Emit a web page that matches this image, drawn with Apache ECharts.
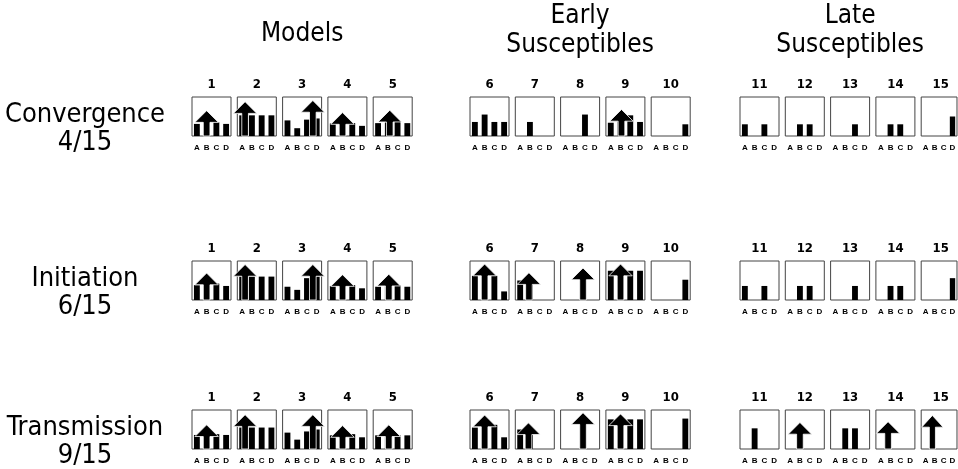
<!DOCTYPE html>
<html>
<head>
<meta charset="utf-8">
<script src="https://cdn.jsdelivr.net/npm/echarts@6/dist/echarts.min.js"></script>
<style>
html, body { margin: 0; padding: 0; background: #fff; }
#main { width: 958px; height: 469px; }
</style>
</head>
<body>
<div id="main"></div>
<script>
// chart data
var categories = ['A', 'B', 'C', 'D'];
var panelNumbers = ['1', '2', '3', '4', '5', '6', '7', '8', '9', '10', '11', '12', '13', '14', '15'];
var groupNames = ['Models', 'Early\nSusceptibles', 'Late\nSusceptibles'];
var rowNames = ['Convergence', 'Initiation', 'Transmission'];
var rowCounts = ['4/15', '6/15', '9/15'];

// bar heights (share of panel height) for A, B, C, D
var convergenceBars = [
    [0.31, 0.35, 0.35, 0.31], [0.53, 0.53, 0.53, 0.53], [0.40, 0.20, 0.42, 0.45],
    [0.32, 0.35, 0.33, 0.26], [0.33, 0.35, 0.36, 0.33],
    [0.36, 0.55, 0.36, 0.36], [0, 0.36, 0, 0], [0, 0, 0.55, 0],
    [0.34, 0.45, 0.53, 0.36], [0, 0, 0, 0.30],
    [0.30, 0, 0.30, 0], [0, 0.30, 0.30, 0], [0, 0, 0.30, 0],
    [0, 0.30, 0.30, 0], [0, 0, 0, 0.50]
];
var initiationBars = [
    [0.38, 0.40, 0.42, 0.36], [0.60, 0.60, 0.60, 0.60], [0.34, 0.26, 0.56, 0.60],
    [0.36, 0.40, 0.38, 0.30], [0.34, 0.40, 0.38, 0.34],
    [0.62, 0.62, 0.62, 0.22], [0.50, 0.50, 0, 0], [0, 0, 0, 0],
    [0.75, 0.75, 0.75, 0.75], [0, 0, 0, 0.52],
    [0.36, 0, 0.36, 0], [0, 0.36, 0.36, 0], [0, 0, 0.36, 0],
    [0, 0.36, 0.36, 0], [0, 0, 0, 0.56]
];
var transmissionBars = [
    [0.36, 0.38, 0.38, 0.36], [0.55, 0.55, 0.55, 0.55], [0.42, 0.24, 0.45, 0.50],
    [0.35, 0.36, 0.38, 0.30], [0.35, 0.36, 0.35, 0.35],
    [0.55, 0.60, 0.62, 0.30], [0.50, 0.50, 0, 0], [0, 0, 0, 0],
    [0.76, 0.76, 0.76, 0.76], [0, 0, 0, 0.78],
    [0, 0.53, 0, 0], [0, 0, 0, 0], [0, 0.53, 0.53, 0],
    [0, 0, 0, 0], [0, 0, 0, 0]
];

// arrows: [position on the A-D axis, tip height], null = no arrow
var convergenceArrows = [
    [1.0, 0.65], [0.3, 0.88], [2.6, 0.91], [1.0, 0.60], [1.2, 0.66],
    null, null, null, [1.1, 0.68], null,
    null, null, null, null, null
];
var initiationArrows = [
    [1.0, 0.69], [0.3, 0.91], [2.6, 0.91], [1.0, 0.65], [1.1, 0.66],
    [1.0, 0.92], [0.9, 0.70], [1.8, 0.82], [1.0, 0.92], null,
    null, null, null, null, null
];
var transmissionArrows = [
    [1.0, 0.62], [0.3, 0.88], [2.6, 0.88], [1.0, 0.60], [1.1, 0.62],
    [1.0, 0.87], [0.85, 0.67], [1.8, 0.93], [1.0, 0.90], null,
    null, [1.0, 0.68], null, [0.75, 0.70], [0.75, 0.86]
];

var allBars = [convergenceBars, initiationBars, transmissionBars];
var allArrows = [convergenceArrows, initiationArrows, transmissionArrows];

// layout
var groupLeft = [192, 470, 740];
var step = 45.3;
var boxW = 39, boxH = 39;
var rowTop = [97, 261, 410];
var textFont = "'Liberation Sans Narrow', 'DejaVu Sans Condensed', 'Liberation Sans', sans-serif";

function arrowShape(params, api) {
    var pos = api.value(0);
    var tip = api.value(1);
    var base = Math.floor(pos);
    var p0 = api.coord([base, 0]);
    var bw = api.size([1, 0])[0];
    var x = p0[0] + (pos - base) * bw;
    var y0 = p0[1];
    var yt = api.coord([base, tip])[1];
    var hh = api.size([0, 0.3])[1];
    var hw = bw * 1.2, sw = bw * 0.34;
    return {
        type: 'polygon',
        shape: {
            points: [[x - sw, y0], [x - sw, yt + hh], [x - hw, yt + hh], [x, yt],
                     [x + hw, yt + hh], [x + sw, yt + hh], [x + sw, y0]]
        },
        style: { fill: '#000', stroke: '#fff', lineWidth: 0.8 }
    };
}

var grids = [], xAxes = [], yAxes = [], series = [], texts = [];

for (var r = 0; r < 3; r++) {
    for (var p = 0; p < 15; p++) {
        var g = Math.floor(p / 5);
        var idx = grids.length;
        var left = groupLeft[g] + (p % 5) * step;
        grids.push({
            left: left, top: rowTop[r], width: boxW, height: boxH,
            show: true, borderColor: '#444', borderWidth: 1, backgroundColor: '#fff'
        });
        xAxes.push({
            gridIndex: idx, type: 'category', data: categories,
            axisLine: { show: false }, axisTick: { show: false },
            axisLabel: { interval: 0, margin: 8, fontSize: 8, fontWeight: 'bold', color: '#000', fontFamily: 'Liberation Sans, sans-serif' }
        });
        yAxes.push({ gridIndex: idx, type: 'value', min: 0, max: 1, show: false });
        series.push({
            type: 'bar', xAxisIndex: idx, yAxisIndex: idx,
            data: allBars[r][p], barWidth: '60%',
            itemStyle: { color: '#000' }, silent: true
        });
        if (allArrows[r][p]) {
            series.push({
                type: 'custom', xAxisIndex: idx, yAxisIndex: idx,
                data: [allArrows[r][p]], renderItem: arrowShape, z: 3, silent: true
            });
        }
        texts.push({
            type: 'text', x: left + boxW / 2, y: rowTop[r] - 12,
            style: { text: panelNumbers[p], align: 'center', verticalAlign: 'middle', font: 'bold 13px ' + textFont, fill: '#000' }
        });
    }
    texts.push({
        type: 'text', x: 85, y: rowTop[r] + 32,
        style: { text: rowNames[r] + '\n' + rowCounts[r], align: 'center', verticalAlign: 'middle', lineHeight: 28, font: '27px ' + textFont, fill: '#000' }
    });
}

for (var k = 0; k < 3; k++) {
    var cx = groupLeft[k] + 2 * step + boxW / 2;
    texts.push({
        type: 'text', x: cx, y: k === 0 ? 34 : 31,
        style: { text: groupNames[k], align: 'center', verticalAlign: 'middle', lineHeight: 29, font: '26px ' + textFont, fill: '#000' }
    });
}

var chart = echarts.init(document.getElementById('main'));
chart.setOption({
    animation: false,
    grid: grids,
    xAxis: xAxes,
    yAxis: yAxes,
    series: series,
    graphic: texts
});
window.addEventListener('resize', function () {
    chart.resize();
});
</script>
</body>
</html>
